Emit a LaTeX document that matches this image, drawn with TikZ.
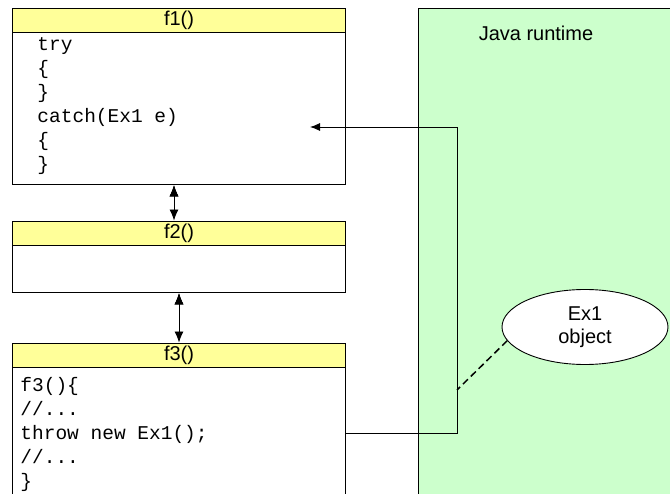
\documentclass[tikz,border=0pt]{standalone}
\usepackage{fontspec}
\setmainfont{Liberation Sans}
\setmonofont{Liberation Mono}
\usetikzlibrary{arrows.meta,shapes.geometric}
\definecolor{headyellow}{HTML}{FFFF99}
\definecolor{rtgreen}{HTML}{CCFFCC}

\begin{document}
\begin{tikzpicture}[
    x=1pt,
    y=-1pt,
    line width=0.9pt,
    head/.style={draw, fill=headyellow, minimum width=333pt, minimum height=24pt, inner sep=0pt, font=\fontsize{20}{22}\selectfont},
    body/.style={draw, fill=white, minimum width=333pt, inner sep=0pt, anchor=north},
    code/.style={anchor=north west, inner sep=0pt, align=left, font=\ttfamily\fontsize{19.5}{24}\selectfont},
    runtime/.style={draw, fill=rtgreen, anchor=north west, minimum width=280pt, minimum height=500pt},
    obj/.style={draw, ellipse, fill=white, minimum width=166pt, minimum height=75pt, inner sep=0pt, align=center, font=\fontsize{20}{23}\selectfont},
    e/.style={draw, -{Latex[length=10pt, width=8pt]}},
    ee/.style={draw, {Latex[length=11pt, width=9pt]}-{Latex[length=11pt, width=9pt]}},
]
    \clip (0,0) rectangle (670,494);
    \node[runtime] (jvm) at (418,8) {};
    \node[font=\fontsize{20}{22}\selectfont] (jvmlabel) at (536,33) {Java runtime};

    \node[head] (f1h) at (179,20) {f1()};
    \node[body, minimum height=152pt] (f1b) at (f1h.south) {};
    \node[code] (f1code) at (37,37) {try\\\{\\\}\\catch(Ex1 e)\\\{\\\}};

    \node[head] (f2h) at (179,233) {f2()};
    \node[body, minimum height=47pt] (f2b) at (f2h.south) {};

    \node[head] (f3h) at (179,355) {f3()};
    \node[body, minimum height=160pt] (f3b) at (f3h.south) {};
    \node[code] (f3code) at (20,377) {f3()\{\\//...\\throw new Ex1();\\//...\\\}};

    \node[obj] (ex1) at (585,327) {Ex1\\object};

    \coordinate (throwpt) at (346,433);
    \coordinate (turn) at (457,127);
    \coordinate (catchpt) at (310,127);
    \coordinate (link) at (457,390);

    \path[ee] ([xshift=-5pt]f1b.south) edge ([xshift=-5pt]f2h.north);
    \path[ee] (f2b.south) edge (f3h.north);
    \draw[e] (throwpt) -| (turn) -- (catchpt);
    \draw[line width=1.5pt, dash pattern=on 7pt off 4pt] (ex1.190) -- (link);
\end{tikzpicture}
\end{document}
